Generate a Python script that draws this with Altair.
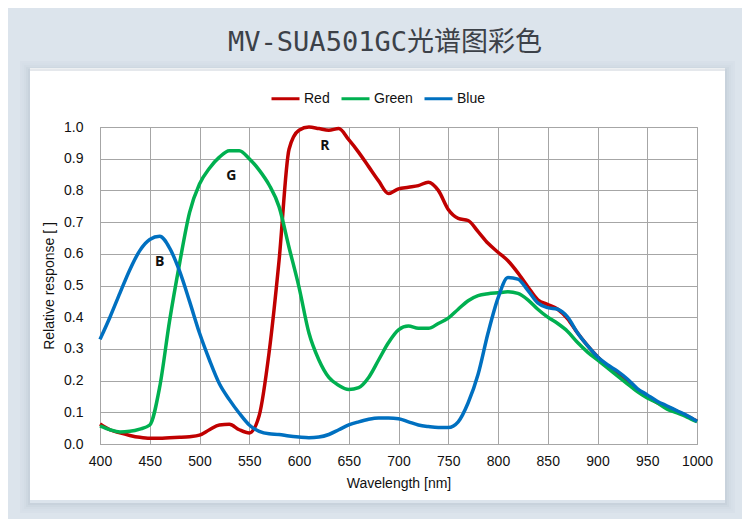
import altair as alt
import pandas as pd

# wavelength grid (nm) and relative response
wavelength = list(range(400, 1001, 10))

red = [0.063, 0.045, 0.035, 0.027, 0.021, 0.018, 0.018, 0.020, 0.021, 0.023,
       0.028, 0.045, 0.060, 0.062, 0.045, 0.035, 0.090, 0.290, 0.580, 0.930,
       0.990, 1.000, 0.995, 0.990, 0.995, 0.960, 0.920, 0.875, 0.830, 0.790,
       0.805, 0.810, 0.815, 0.826, 0.800, 0.740, 0.712, 0.705, 0.670, 0.633,
       0.605, 0.578, 0.540, 0.496, 0.455, 0.440, 0.425, 0.395, 0.350, 0.310,
       0.275, 0.245, 0.225, 0.200, 0.170, 0.150, 0.130, 0.117, 0.103, 0.088,
       0.072]

green = [0.057, 0.045, 0.038, 0.040, 0.047, 0.060, 0.180, 0.390, 0.570, 0.730,
         0.820, 0.870, 0.905, 0.925, 0.925, 0.900, 0.864, 0.817, 0.748, 0.620,
         0.495, 0.350, 0.265, 0.210, 0.185, 0.172, 0.178, 0.210, 0.265, 0.320,
         0.360, 0.372, 0.365, 0.365, 0.380, 0.397, 0.425, 0.452, 0.468, 0.474,
         0.477, 0.480, 0.475, 0.455, 0.425, 0.400, 0.380, 0.355, 0.320, 0.290,
         0.265, 0.240, 0.215, 0.190, 0.165, 0.145, 0.130, 0.110, 0.098, 0.085,
         0.070]

blue = [0.330, 0.400, 0.476, 0.550, 0.610, 0.645, 0.655, 0.618, 0.545, 0.450,
        0.350, 0.265, 0.190, 0.140, 0.097, 0.060, 0.040, 0.032, 0.030, 0.025,
        0.022, 0.020, 0.022, 0.030, 0.045, 0.060, 0.070, 0.078, 0.082, 0.082,
        0.080, 0.070, 0.060, 0.055, 0.052, 0.052, 0.070, 0.130, 0.220, 0.350,
        0.460, 0.525, 0.520, 0.485, 0.445, 0.430, 0.425, 0.400, 0.350, 0.310,
        0.275, 0.250, 0.230, 0.205, 0.175, 0.155, 0.135, 0.120, 0.105, 0.090,
        0.072]

series = ["Red", "Green", "Blue"]
colors = ["#c00000", "#00b050", "#0070c0"]

x_ticks = list(range(400, 1001, 50))
y_ticks = [0.0, 0.1, 0.2, 0.3, 0.4, 0.5, 0.6, 0.7, 0.8, 0.9, 1.0]

# curve letters
tag_text = ["B", "G", "R"]
tag_x = [460, 532, 626]
tag_y = [0.574, 0.845, 0.94]

title_text = "MV-SUA501GC光谱图彩色"

rows = []
for name, vals in zip(series, [red, green, blue]):
    for w, v in zip(wavelength, vals):
        rows.append({"wavelength": w, "response": v, "series": name})
df = pd.DataFrame(rows)
tags = pd.DataFrame({"wavelength": tag_x, "response": tag_y, "tag": tag_text})

W, H = 597, 317
one = pd.DataFrame({"a": [0]})
page_bg = "#dce4ec"
sans = "Liberation Sans, Arial, sans-serif"

# grey page around the white card (card edges: -70, 625, -59, 373)
bands = [(-92, 642, -119, -59), (-92, 642, 373, 392),
         (-92, -70, -59, 373), (625, 642, -59, 373)]
frame = [
    alt.Chart(one).mark_rect(color=page_bg).encode(
        x=alt.value(a), x2=alt.value(b), y=alt.value(c), y2=alt.value(d))
    for a, b, c, d in bands
]
# soft shadow just outside the card
shadow = [
    alt.Chart(one).mark_rect(fillOpacity=0, stroke="#6f8197", strokeOpacity=op,
                             strokeWidth=2).encode(
        x=alt.value(-70 - s), x2=alt.value(625 + s),
        y=alt.value(-59 - s + 3), y2=alt.value(373 + s + 3))
    for s, op in ((1, 0.18), (3, 0.12), (5, 0.08), (7, 0.05), (9, 0.03))
]
heading = alt.Chart(one).mark_text(
    text=title_text, fontSize=27, font="DejaVu Sans Mono, Noto Sans CJK SC",
    color="#3c4148", align="center", baseline="alphabetic").encode(
    x=alt.value(285), y=alt.value(-76))

x_axis = alt.Axis(values=x_ticks, format="d",
                  title="Wavelength [nm]", ticks=False, labelFlush=False,
                  labelOverlap=False, labelPadding=10, titlePadding=8)
y_axis = alt.Axis(values=y_ticks, format=".1f",
                  title="Relative response [ ]", ticks=False, labelFlush=False,
                  labelOverlap=False, labelPadding=17, titlePadding=7)
x_scale = alt.Scale(domain=[400, 1000], nice=False, zero=False)
y_scale = alt.Scale(domain=[0, 1], nice=False)

lines = alt.Chart(df).mark_line(strokeWidth=3.5, interpolate="monotone").encode(
    x=alt.X("wavelength:Q", scale=x_scale, axis=x_axis),
    y=alt.Y("response:Q", scale=y_scale, axis=y_axis),
    color=alt.Color("series:N", sort=series,
                    scale=alt.Scale(domain=series, range=colors),
                    legend=alt.Legend(title=None, orient="none", direction="horizontal",
                                      legendX=170, legendY=-44,
                                      symbolType="stroke", symbolSize=784,
                                      symbolStrokeWidth=3, labelFontSize=14,
                                      labelFont=sans, labelColor="#111",
                                      labelOffset=3, columnPadding=5)),
)

labels = alt.Chart(tags).mark_text(fontSize=14, fontWeight="bold", font="Open Sans",
                                   color="#111").encode(
    x=alt.X("wavelength:Q", scale=x_scale, axis=x_axis),
    y=alt.Y("response:Q", scale=y_scale, axis=y_axis),
    text="tag:N")

chart = alt.layer(*frame, *shadow, heading, lines, labels).properties(
    width=W, height=H,
    autosize=alt.AutoSizeParams(type="none"),
    padding={"left": 92, "top": 119, "right": 45, "bottom": 75},
    background="white",
).configure_view(stroke="#a6a6a6").configure_axis(
    gridColor="#a6a6a6", gridOpacity=1, domainColor="#a6a6a6",
    labelFont=sans, labelFontSize=14, labelColor="#111",
    titleFont=sans, titleFontSize=14, titleFontWeight="normal",
    titleColor="#111",
)

chart.save("out.html", embed_options={"renderer": "svg", "actions": False})
